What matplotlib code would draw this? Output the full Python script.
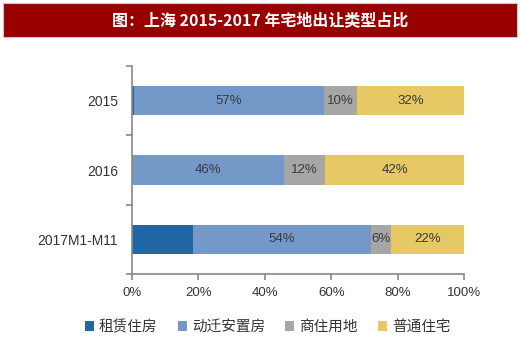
import numpy as np
import matplotlib.pyplot as plt
from matplotlib.patches import Rectangle

plt.rcParams['font.family'] = ['Liberation Sans', 'Noto Sans CJK SC', 'DejaVu Sans']

# 上海 2015-2017 年宅地出让类型占比（%）
years = ['2015', '2016', '2017M1-M11']
series = ['租赁住房', '动迁安置房', '商住用地', '普通住宅']
rent = [0.6, 0.0, 18.4]
relocation = [57.2, 45.8, 53.6]
commercial = [10.0, 12.4, 6.0]
ordinary = [32.2, 41.8, 22.0]
colors = ['#1f66a4', '#7499c8', '#a6a6a6', '#e6c864']

fig = plt.figure(figsize=(5.2, 3.48), dpi=100)
fig.patch.set_facecolor('white')

# 标题条
fig.patches.append(Rectangle((3 / 520, 1 - 37 / 348), 514 / 520, 34 / 348,
                             transform=fig.transFigure, facecolor='#990000',
                             edgecolor='#c8c8c8', linewidth=0.8, zorder=0))
fig.text(0.5, 1 - 20 / 348, '图：上海 2015-2017 年宅地出让类型占比', color='white',
         fontsize=11.5, fontweight='bold', ha='center', va='center',
         family=['Noto Sans CJK SC', 'DejaVu Sans'])

ax = fig.add_axes([132 / 520, 1 - 274 / 348, 332 / 520, 208 / 348])
y = np.arange(len(years))
data = [rent, relocation, commercial, ordinary]
left = np.zeros(len(years))
for i, (vals, c) in enumerate(zip(data, colors)):
    vals = np.array(vals) / 100
    bars = ax.barh(y, vals, left=left, height=0.42, color=c, label=series[i])
    if i > 0:
        for b, v in zip(bars, vals):
            ax.text(b.get_x() + b.get_width() / 2, b.get_y() + b.get_height() / 2,
                    f'{v * 100:.0f}%', ha='center', va='center', fontsize=9.5, color='#3a3a3a')
    left += vals

ax.set_xlim(0, 1)
ax.set_ylim(len(years) - 0.5, -0.5)
ax.set_yticks(y)
ax.set_yticklabels(years)
ax.set_yticks(np.arange(-0.5, len(years)), minor=True)
ax.tick_params(axis='y', which='major', length=0, pad=10, labelsize=10, labelcolor='#333333')
ax.tick_params(axis='y', which='minor', length=4, color='#888888', width=1.2)
ax.set_xticks(np.linspace(0, 1, 6))
ax.set_xticklabels([f'{int(t * 100)}%' for t in np.linspace(0, 1, 6)])
ax.tick_params(axis='x', length=4, color='#888888', width=1.2, labelsize=9.5,
               labelcolor='#333333', pad=5)
for s in ['top', 'right']:
    ax.spines[s].set_visible(False)
for s in ['left', 'bottom']:
    ax.spines[s].set_color('#888888')
    ax.spines[s].set_linewidth(1.2)

leg = fig.legend(loc='center', bbox_to_anchor=(0.515, 1 - 327 / 348), ncol=4, frameon=False,
                 handlelength=0.6, handleheight=0.6, handletextpad=0.35, columnspacing=1.4,
                 prop={'family': ['Noto Sans CJK SC'], 'size': 10.5})
for t in leg.get_texts():
    t.set_color('#333333')

fig.savefig('out.png', dpi=100)
